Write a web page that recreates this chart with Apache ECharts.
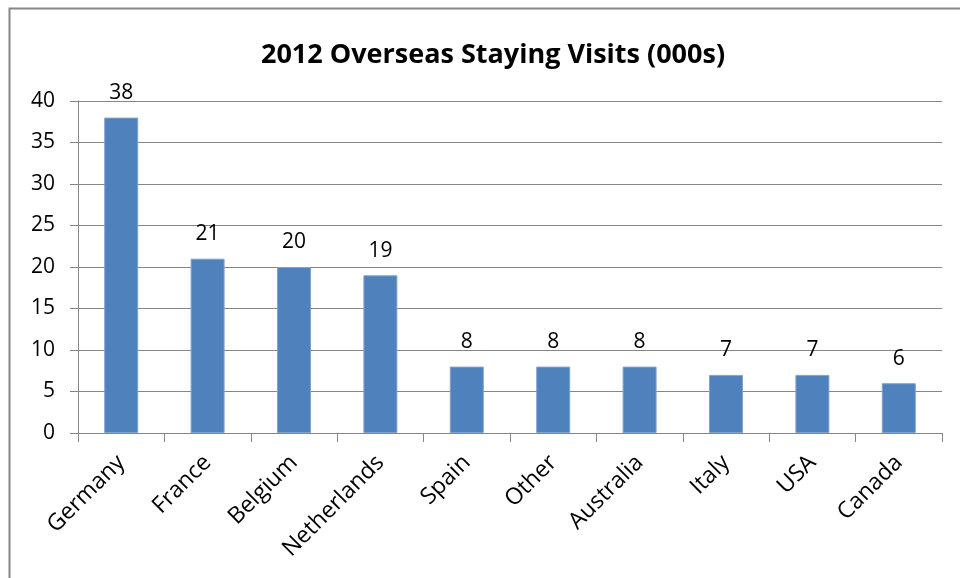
<!DOCTYPE html>
<html>
<head>
<meta charset="utf-8">
<script src="https://cdn.jsdelivr.net/npm/echarts@6/dist/echarts.min.js"></script>
<style>
  html, body { margin: 0; padding: 0; background: #fff; }
  #chart { width: 960px; height: 578px; }
</style>
</head>
<body>
<div id="chart"></div>
<script>
// Overseas staying visits in 2012, thousands
const countries = ['Germany', 'France', 'Belgium', 'Netherlands', 'Spain', 'Other', 'Australia', 'Italy', 'USA', 'Canada'];
const visits = [38, 21, 20, 19, 8, 8, 8, 7, 7, 6];
const yTicks = [0, 5, 10, 15, 20, 25, 30, 35, 40];

const chart = echarts.init(document.getElementById('chart'), null, { renderer: 'canvas' });
const labelFont = '"Open Sans", sans-serif';

chart.setOption({
  animation: false,
  backgroundColor: '#fff',
  title: {
    text: '2012 Overseas Staying Visits (000s)',
    left: 488,
    top: 50,
    textAlign: 'center',
    textVerticalAlign: 'middle',
    textStyle: { fontFamily: labelFont, fontWeight: 'bold', fontSize: 27, color: '#000' }
  },
  graphic: [{
    type: 'rect',
    shape: { x: 9.5, y: 8.5, width: 1000, height: 1000 },
    style: { fill: 'none', stroke: '#868686', lineWidth: 2 },
    silent: true
  }],
  grid: { left: 78, right: 18, top: 101, bottom: 145 },
  xAxis: {
    type: 'category',
    data: countries,
    axisLine: { lineStyle: { color: '#868686', width: 1 } },
    axisTick: { show: true, length: 9, alignWithLabel: false, lineStyle: { color: '#868686' } },
    axisLabel: { rotate: 45, margin: 26, interval: 0, color: '#000', fontFamily: labelFont, fontSize: 23 }
  },
  yAxis: {
    type: 'value',
    min: yTicks[0],
    max: yTicks[yTicks.length - 1],
    interval: 5,
    axisLine: { show: true, lineStyle: { color: '#868686', width: 1 } },
    axisTick: { show: true, length: 8, lineStyle: { color: '#868686' } },
    axisLabel: { margin: 23, color: '#000', fontFamily: labelFont, fontSize: 21 },
    splitLine: { lineStyle: { color: '#868686', width: 1 } }
  },
  series: [{
    type: 'bar',
    data: visits,
    barWidth: 34,
    itemStyle: { color: '#4F81BD', borderColor: '#7FA3D1', borderWidth: 1 },
    label: { show: true, position: 'top', distance: 14, color: '#000', fontFamily: labelFont, fontSize: 21 }
  }]
});
</script>
</body>
</html>
